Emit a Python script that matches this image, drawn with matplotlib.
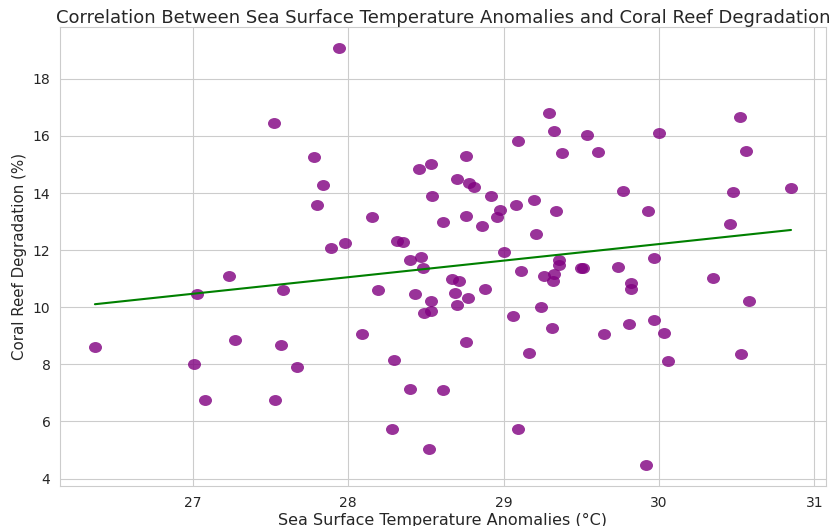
import numpy as np
import matplotlib
matplotlib.use("Agg")
import matplotlib.pyplot as plt
from matplotlib.path import Path
from matplotlib.transforms import Affine2D
import seaborn as sns

# Sea surface temperature anomalies (°C)
sst = [
    26.37, 27.03, 27.01, 27.08, 27.23, 27.27, 27.52, 27.58, 27.57, 27.53,
    27.67, 27.78, 27.84, 27.80, 27.89, 27.94, 27.98, 28.155, 28.19, 28.09,
    28.295, 28.28, 28.316, 28.355, 28.395, 28.395, 28.47, 28.48, 28.43, 28.453,
    28.53, 28.54, 28.61, 28.61, 28.52, 28.53, 28.53, 28.49, 28.70, 28.76,
    28.78, 28.81, 28.76, 28.67, 28.71, 28.685, 28.70, 28.77, 28.76, 28.86,
    28.88, 28.92, 28.98, 28.96, 29.00, 29.08, 29.09, 29.06, 29.09, 29.11,
    29.166, 29.196, 29.21, 29.24, 29.26, 29.295, 29.327, 29.34, 29.325, 29.32,
    29.31, 29.36, 29.36, 29.374, 29.50, 29.51, 29.54, 29.61, 29.645, 29.735,
    29.77, 29.805, 29.82, 29.82, 29.915, 29.93, 29.97, 29.97, 29.999, 30.03,
    30.06, 30.35, 30.46, 30.475, 30.52, 30.53, 30.56, 30.58, 30.85,
]

# Coral reef degradation (%)
degradation = [
    8.61, 10.47, 8.01, 6.74, 11.10, 8.85, 16.46, 10.62, 8.69, 6.74,
    7.90, 15.26, 14.28, 13.58, 12.07, 19.09, 12.25, 13.16, 10.62, 9.07,
    8.14, 5.73, 12.33, 12.27, 11.65, 7.12, 11.75, 11.39, 10.47, 14.85,
    15.02, 13.88, 12.97, 7.10, 5.05, 10.21, 9.87, 9.80, 14.49, 15.31,
    14.34, 14.20, 13.18, 11.00, 10.93, 10.49, 10.08, 10.34, 8.79, 12.84,
    10.65, 13.88, 13.40, 13.16, 11.93, 13.58, 15.82, 9.68, 5.73, 11.27,
    8.39, 13.74, 12.56, 10.00, 11.10, 16.81, 16.19, 13.37, 11.15, 10.93,
    9.26, 11.65, 11.48, 15.41, 11.37, 11.39, 16.03, 15.42, 9.07, 11.40,
    14.07, 9.40, 10.84, 10.63, 4.47, 13.37, 11.72, 9.55, 16.11, 9.11,
    8.12, 11.02, 12.92, 14.02, 16.65, 8.37, 15.48, 10.21, 14.17,
]

sns.set_style("whitegrid")

x = np.array(sst)
y = np.array(degradation)

fig = plt.figure(figsize=(8.35, 5.26), dpi=100)
ax = fig.add_subplot(111)

# the dots in the reference are a bit wider than tall
dot = Path.unit_circle().transformed(Affine2D().scale(1.0, 0.84))
ax.scatter(x, y, color="purple", alpha=0.8, s=88, marker=dot, linewidths=0)

# linear trend
m, b = np.polyfit(x, y, 1)
xs = np.array([x.min(), x.max()])
ax.plot(xs, m * xs + b, color="green", linewidth=1.5)

ax.set_title("Correlation Between Sea Surface Temperature Anomalies and Coral Reef Degradation",
             fontsize=13, pad=3)
ax.set_xlabel("Sea Surface Temperature Anomalies (°C)", fontsize=11.5, labelpad=2)
ax.set_ylabel("Coral Reef Degradation (%)", fontsize=10.8, labelpad=4)

fig.subplots_adjust(left=0.072, right=0.989, top=0.949, bottom=0.076)
fig.savefig("out.png", dpi=100)
